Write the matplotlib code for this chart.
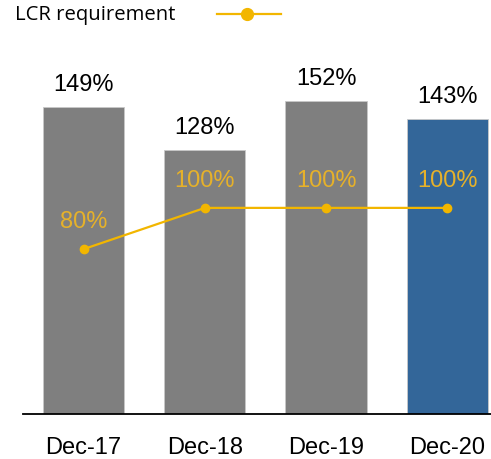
import matplotlib.pyplot as plt
from matplotlib.lines import Line2D
import numpy as np

# data
periods = ['Dec-17', 'Dec-18', 'Dec-19', 'Dec-20']
lcr = [149, 128, 152, 143]
lcr_req = [80, 100, 100, 100]
bar_colors = ['#7f7f7f', '#7f7f7f', '#7f7f7f', '#336699']

GOLD = '#f2b600'
W, H = 491, 460
FS = 17

fig = plt.figure(figsize=(W / 100, H / 100), dpi=100)
# axes placed in pixel terms: left 23, right 491, baseline at y=415
ax = fig.add_axes([23 / W, 45 / H, 468 / W, 371 / H])

x = np.arange(len(periods))
ax.bar(x, lcr, width=0.67, color=bar_colors, edgecolor='#c8c8c8', linewidth=0.6, zorder=1)
ax.plot(x, lcr_req, color=GOLD, lw=1.6, marker='o', ms=6, zorder=3)

for xi, v in zip(x, lcr):
    ax.annotate(f'{v}%', (xi, v), xytext=(0, 23), textcoords='offset pixels',
                ha='center', va='center', fontsize=FS, family='Liberation Sans',
                color='#000000')
for xi, v in zip(x, lcr_req):
    ax.annotate(f'{v}%', (xi, v), xytext=(0, 28), textcoords='offset pixels',
                ha='center', va='center', fontsize=FS, family='Liberation Sans',
                color='#e6b12a', zorder=4)

ax.set_xlim(-0.5, 3.36)
ax.set_ylim(0, 180)
ax.set_xticks(x)
ax.set_xticklabels(periods, fontsize=FS, family='Liberation Sans')
ax.tick_params(axis='x', length=0, pad=16)
ax.set_yticks([])
for s in ['top', 'left', 'right']:
    ax.spines[s].set_visible(False)
ax.spines['bottom'].set_linewidth(1.3)
ax.spines['bottom'].set_color('#000000')

# legend drawn at top left
fig.text(15 / W, 1 - 15 / H, 'LCR requirement', ha='left', va='center',
         fontsize=14.6, family='Open Sans')
fig.add_artist(Line2D([217 / W, 281 / W], [1 - 15 / H, 1 - 15 / H], color=GOLD, lw=1.6,
                      transform=fig.transFigure))
fig.add_artist(Line2D([247 / W], [1 - 15 / H], color=GOLD, marker='o', ms=8.5,
                      transform=fig.transFigure))

fig.savefig('out.png', dpi=100)
